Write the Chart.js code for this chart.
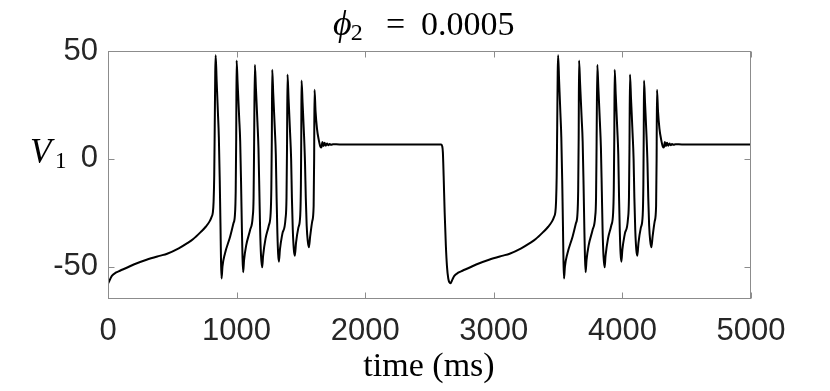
<!DOCTYPE html>
<html>
<head>
<meta charset="utf-8">
<script src="https://cdn.jsdelivr.net/npm/chart.js@4.4.0/dist/chart.umd.min.js"></script>
<style>
  html, body { margin: 0; padding: 0; background: #ffffff; }
  canvas { display: block; }
</style>
</head>
<body>
<canvas id="c" width="830" height="391"></canvas>
<script>
// ---- Data ----
const timeMs = [
  0, 15, 30, 60, 93, 150, 200, 300, 400, 460, 550, 620, 663, 720, 760, 790, 805, 815, 821, 826, 830, 834, 837,
  845, 855, 862, 869, 875, 879, 883, 890, 909, 950, 975, 987, 993, 997, 1000,
  1008, 1020, 1028, 1035, 1041, 1046, 1051, 1058, 1075, 1105, 1125, 1132, 1136, 1142,
  1150, 1162, 1170, 1177, 1183, 1190, 1199, 1206, 1225, 1250, 1265, 1270, 1274, 1277,
  1285, 1297, 1305, 1311, 1317, 1323, 1329, 1337, 1355, 1380, 1388, 1392, 1396,
  1404, 1416, 1424, 1430, 1437, 1445, 1453, 1462, 1480, 1495, 1500, 1503, 1505,
  1513, 1525, 1532, 1538, 1545, 1553, 1562, 1572, 1588, 1599, 1603, 1606,
  1614, 1625, 1638, 1652, 1660, 1667, 1675, 1684, 1693, 1703, 1713, 1723, 1735, 1750, 1800, 2000, 2300, 2590,
  2598, 2604, 2610, 2618, 2627, 2636, 2646, 2655, 2663, 2678, 2693, 2723, 2756, 2813, 2863, 2963, 3063, 3123,
  3213, 3283, 3326, 3383, 3423, 3453, 3468, 3478, 3484, 3489, 3493, 3497, 3500,
  3508, 3518, 3525, 3532, 3538, 3542, 3546, 3553, 3572, 3613, 3638, 3650, 3656, 3660, 3663,
  3671, 3683, 3691, 3698, 3704, 3709, 3714, 3721, 3738, 3768, 3788, 3795, 3799, 3805,
  3813, 3825, 3833, 3840, 3846, 3853, 3862, 3869, 3888, 3913, 3928, 3933, 3937, 3940,
  3948, 3960, 3968, 3974, 3980, 3986, 3992, 4000, 4018, 4043, 4051, 4055, 4059,
  4067, 4079, 4087, 4093, 4100, 4108, 4116, 4125, 4143, 4158, 4163, 4166, 4168,
  4176, 4188, 4195, 4201, 4208, 4216, 4225, 4235, 4251, 4262, 4266, 4269,
  4277, 4288, 4301, 4315, 4323, 4330, 4338, 4347, 4356, 4366, 4376, 4386, 4398, 4413, 4463, 5000
];
const voltage = [
  -58, -56, -54.3, -52.8, -51.9, -50.4, -49, -46.8, -45, -44, -41.5, -39, -37.2, -34, -31.5, -29, -27, -25, -20, -8, 15, 40, 48,
  36, 21, 10, -10, -32, -48, -55.5, -50, -44, -36, -30, -26, -15, 10, 45.6,
  35, 19, 8, -12, -32, -46, -52.6, -47, -40, -33, -27, -18, 5, 43.6,
  33, 17, 5, -15, -33, -45, -50.3, -45, -37, -31, -25, -14, 10, 41.3,
  30, 14, 2, -18, -34, -44, -47.7, -42, -35, -28, -18, 5, 39.1,
  28, 12, 0, -18, -33, -42, -44.9, -39, -32, -26, -12, 12, 36.3,
  26, 10, -2, -18, -31, -38, -41, -36, -29, -22, 0, 32,
  22, 14, 9, 5.6, 5.3, 7.8, 5.9, 7.4, 6.1, 7.1, 6.3, 6.9, 6.5, 6.8, 6.7, 6.7, 6.7, 6.7,
  6, 3, -8, -25, -40, -50, -55.5, -57.3, -57.7, -56, -54.3, -52.8, -51.9, -50.4, -49, -46.8, -45, -44,
  -41.5, -39, -37.2, -34, -31.5, -29, -27, -25, -20, -8, 15, 40, 48,
  36, 21, 10, -10, -32, -48, -55.5, -50, -44, -36, -30, -26, -15, 10, 45.6,
  35, 19, 8, -12, -32, -46, -52.6, -47, -40, -33, -27, -18, 5, 43.6,
  33, 17, 5, -15, -33, -45, -50.3, -45, -37, -31, -25, -14, 10, 41.3,
  30, 14, 2, -18, -34, -44, -47.7, -42, -35, -28, -18, 5, 39.1,
  28, 12, 0, -18, -33, -42, -44.9, -39, -32, -26, -12, 12, 36.3,
  26, 10, -2, -18, -31, -38, -41, -36, -29, -22, 0, 32,
  22, 14, 9, 5.6, 5.3, 7.8, 5.9, 7.4, 6.1, 7.1, 6.3, 6.9, 6.5, 6.8, 6.7, 6.7
];
const xTicks = [0, 1000, 2000, 3000, 4000, 5000];
const yTicks = [-50, 0, 50];
const xRange = [0, 5000];
const yRange = [-65, 50];

const titleMain = "ϕ";
const titleSub = "2";
const titleRest = "0.0005";
const yLabelMain = "V";
const yLabelSub = "1";
const xLabelText = "time (ms)";

// ---- Chart ----
const SERIF = '"Liberation Serif", "DejaVu Serif", serif';
const SANS = '"Liberation Sans", Arial, Helvetica, sans-serif';
const BOX = '#8c8c8c';

const decor = {
  id: 'decor',
  afterDraw(chart) {
    const { ctx, chartArea: a, scales: { x, y } } = chart;
    ctx.save();
    // box
    ctx.strokeStyle = BOX;
    ctx.lineWidth = 1;
    const L = Math.round(a.left) + 0.5, R = Math.round(a.right) - 0.5;
    const T = Math.round(a.top) + 0.5, B = Math.round(a.bottom) - 0.5;
    ctx.strokeRect(L, T, R - L, B - T);
    // inward ticks on all four sides
    const tl = 6;
    ctx.beginPath();
    xTicks.forEach(v => {
      const p = Math.round(x.getPixelForValue(v)) + 0.5;
      ctx.moveTo(p, B); ctx.lineTo(p, B - tl);
      ctx.moveTo(p, T); ctx.lineTo(p, T + tl);
    });
    yTicks.forEach(v => {
      const p = Math.round(y.getPixelForValue(v)) + 0.5;
      ctx.moveTo(L, p); ctx.lineTo(L + tl, p);
      ctx.moveTo(R, p); ctx.lineTo(R - tl, p);
    });
    ctx.stroke();

    ctx.fillStyle = '#000000';
    ctx.textBaseline = 'alphabetic';
    ctx.textAlign = 'left';
    // title
    let tx = 333;
    const tb = 35;
    ctx.font = 'italic 36px ' + SERIF;
    ctx.fillText(titleMain, tx, tb);
    tx += ctx.measureText(titleMain).width;
    ctx.font = '24px ' + SERIF;
    ctx.fillText(titleSub, tx - 1, tb + 5);
    ctx.font = '34px ' + SERIF;
    ctx.fillText('=', 386, tb);
    ctx.fillText(titleRest, 421, tb);

    // y label
    ctx.font = 'italic 35px ' + SERIF;
    ctx.fillText(yLabelMain, 30, 163);
    ctx.font = '23px ' + SERIF;
    ctx.fillText(yLabelSub, 55, 168);

    // x label
    ctx.font = '34px ' + SERIF;
    ctx.textAlign = 'center';
    ctx.fillText(xLabelText, 429, 376);
    ctx.restore();
  }
};

new Chart(document.getElementById('c'), {
  type: 'line',
  data: {
    datasets: [{
      data: timeMs.map((t, i) => ({ x: t, y: voltage[i] })),
      borderColor: '#000000',
      borderWidth: 2,
      pointRadius: 0,
      fill: false,
      cubicInterpolationMode: 'monotone'
    }]
  },
  options: {
    responsive: false,
    animation: false,
    events: [],
    layout: { padding: { top: 51, right: 79, bottom: 0, left: 0 } },
    plugins: { legend: { display: false }, tooltip: { enabled: false }, title: { display: false } },
    scales: {
      x: {
        type: 'linear',
        min: xRange[0], max: xRange[1],
        grid: { display: false, drawTicks: false },
        border: { display: false },
        afterBuildTicks: s => { s.ticks = xTicks.map(v => ({ value: v })); },
        afterFit: s => { s.height = 92; },
        ticks: {
          color: '#262626',
          font: { family: SANS, size: 31 },
          padding: 14,
          maxRotation: 0,
          autoSkip: false,
          callback: v => String(v)
        }
      },
      y: {
        type: 'linear',
        min: yRange[0], max: yRange[1],
        grid: { display: false, drawTicks: false },
        border: { display: false },
        afterBuildTicks: s => { s.ticks = yTicks.map(v => ({ value: v })); },
        afterFit: s => { s.width = 108; },
        ticks: {
          color: '#262626',
          font: { family: SANS, size: 31 },
          padding: 10,
          callback: v => String(v)
        }
      }
    }
  },
  plugins: [decor]
});
</script>
</body>
</html>
